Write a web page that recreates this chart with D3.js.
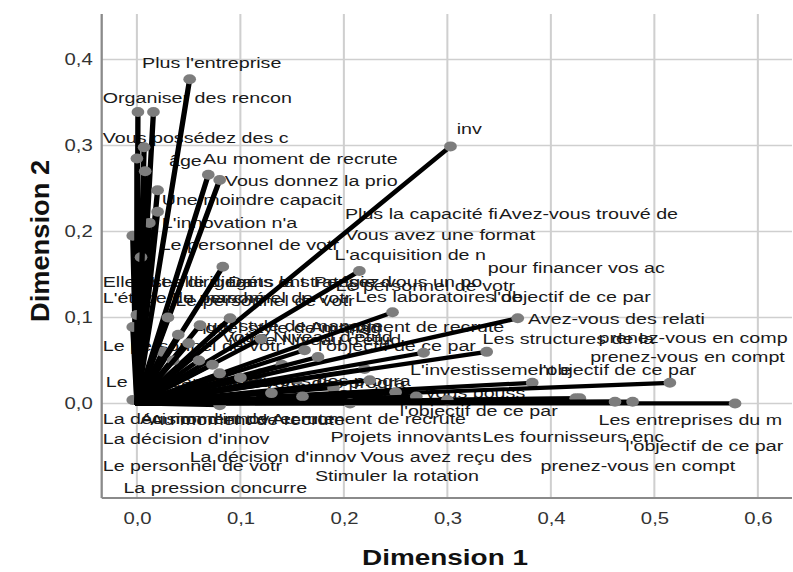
<!DOCTYPE html>
<html><head><meta charset="utf-8">
<script src="https://cdn.jsdelivr.net/npm/d3@7"></script>
<style>
html,body{margin:0;padding:0;background:#fff;}
svg{display:block;}
text{font-family:"Liberation Sans",Arial,sans-serif;}
</style></head>
<body>
<svg id="chart" width="793" height="572"></svg>
<script>
// ---- data (component loadings) ----
const varLabels = [
 "Plus l'entreprise","Organiser des rencon","Vous possédez des c","âge","Au moment de recrute",
 "Vous donnez la prio","Une moindre capacit","L'innovation n'a","Le personnel de votr","inv",
 "Plus la capacité fi","Avez-vous trouvé de","Vous avez une format","L'acquisition de n","pour financer vos ac",
 "Elle est-elle dirigé","Pensez-vous un po","Le personnel de votr","Les laboratoires de","l'objectif de ce par",
 "L'étude du marché","Le personnel de votr","quel style de manage","Au moment de recrute","Avez-vous des relati",
 "Votre Niveau d'étud","l'objectif de ce par","Les structures de la","prenez-vous en comp","prenez-vous en compt",
 "Le personnel de votr","Le dirigeant de vot","L'investissement e","l'objectif de ce par","Avez-vous des progra",
 "Les clients vous pouss","l'objectif de ce par","Les entreprises du m","La décision d'innov","Au moment de recrute",
 "Au moment de recrute","La décision d'innov","Projets innovants","Les fournisseurs enc","l'objectif de ce par",
 "Le personnel de votr","La décision d'innov","Vous avez reçu des","prenez-vous en compt","Stimuler la rotation",
 "La pression concurre",
 "Les dirigeants ont","Dans la stratégie d","Le personnel de votr","quel style de manag","Votre Niveau d'étud",
 "Avez-vous des progra","Au moment de recrute"
];
const dim1 = [
 0.051,0.016,0.001,0.007,0.069,
 0.080,0.020,0.020,-0.004,0.303,
 0.155,0.120,0.190,0.215,0.140,
 0.000,0.083,0.120,0.247,0.220,
 -0.004,0.061,0.090,0.162,0.368,
 0.175,0.277,0.338,0.428,0.424,
 0.000,0.073,0.382,0.515,0.225,
 0.250,0.270,0.578,-0.004,0.035,
 0.110,0.025,0.206,0.300,0.479,
 0.080,0.080,0.160,0.462,0.130,
 0.100,
 0.012,0.004,0.008,0.030,0.040,
 0.050,0.060
];
const dim2 = [
 0.377,0.339,0.339,0.298,0.266,
 0.260,0.248,0.223,0.195,0.299,
 0.028,0.035,0.018,0.154,0.045,
 0.285,0.159,0.075,0.106,0.040,
 0.089,0.091,0.099,0.062,0.099,
 0.054,0.059,0.060,0.006,0.006,
 0.103,0.045,0.024,0.024,0.027,
 0.013,0.008,0.000,0.004,0.050,
 0.005,0.060,0.000,0.004,0.002,
 0.035,-0.002,0.008,0.002,0.012,
 0.030,
 0.210,0.170,0.270,0.100,0.080,
 0.070,0.050
];
// label anchors (left edge / vertical centre), in dimension units
const labelDim1 = [
 0.005,-0.033,-0.033,0.031,0.064,
 0.085,0.024,0.024,0.022,0.309,
 0.201,0.350,0.201,0.191,0.339,
 -0.033,0.171,0.192,0.211,0.344,
 -0.033,0.034,0.057,0.167,0.378,
 0.082,0.175,0.334,0.446,0.438,
 -0.033,-0.030,0.264,0.388,0.080,
 0.184,0.254,0.446,-0.033,0.003,
 0.130,-0.033,0.187,0.334,0.472,
 -0.033,0.051,0.216,0.390,0.172,
 -0.013,
 0.013,0.088,0.037,0.066,0.090,
 0.075,0.013
];
const labelDim2 = [
 0.397,0.356,0.310,0.283,0.285,
 0.259,0.237,0.211,0.185,0.320,
 0.221,0.221,0.197,0.173,0.158,
 0.142,0.142,0.137,0.124,0.125,
 0.123,0.123,0.091,0.090,0.099,
 0.078,0.067,0.076,0.077,0.055,
 0.067,0.026,0.040,0.040,0.027,
 0.013,-0.008,-0.019,-0.017,-0.017,
 -0.017,-0.041,-0.038,-0.038,-0.049,
 -0.072,-0.062,-0.062,-0.072,-0.084,
 -0.098,
 0.142,0.142,0.120,0.088,0.075,
 0.024,-0.019
];
const xTicks = [0,0.1,0.2,0.3,0.4,0.5,0.6];
const yTicks = [0,0.1,0.2,0.3,0.4];
const xTitle = "Dimension 1", yTitle = "Dimension 2";

// ---- drawing ----
const SX = 1.27; // horizontal stretch of the original image
const svg = d3.select("#chart");
const g = svg.append("g").attr("transform", `scale(${SX},1)`);
const pLeft = 101.7/SX, pRight = 792/SX, pTop = 14, pBottom = 498;
const x = d3.scaleLinear().domain([-0.034, 0.633]).range([pLeft, pRight]);
const y = d3.scaleLinear().domain([-0.11, 0.453]).range([pBottom, pTop]);
const fmt = v => d3.format(".1f")(v).replace(".", ",");

// grid
g.append("g").selectAll("line").data(xTicks).join("line")
  .attr("x1", d => x(d)).attr("x2", d => x(d)).attr("y1", pTop).attr("y2", pBottom)
  .attr("stroke", "#cfcfcf").attr("stroke-width", 1.6);
g.append("g").selectAll("line").data(yTicks).join("line")
  .attr("x1", pLeft).attr("x2", pRight).attr("y1", d => y(d)).attr("y2", d => y(d))
  .attr("stroke", "#cfcfcf").attr("stroke-width", 1.6);

// axes lines
g.append("line").attr("x1", pLeft).attr("x2", pLeft).attr("y1", pTop).attr("y2", pBottom)
  .attr("stroke", "#8a8a8a").attr("stroke-width", 1.8);
g.append("line").attr("x1", pLeft).attr("x2", pRight).attr("y1", pBottom).attr("y2", pBottom)
  .attr("stroke", "#8a8a8a").attr("stroke-width", 1.8);

// ticks
const xAxis = d3.axisBottom(x).tickValues(xTicks).tickFormat(fmt).tickSize(0).tickPadding(15);
const gx = g.append("g").attr("transform", `translate(0,${pBottom})`).call(xAxis);
gx.select(".domain").remove();
gx.selectAll("text").attr("font-size", 16).attr("fill", "#333").attr("font-family", "Liberation Sans, Arial, sans-serif");
const yAxis = d3.axisLeft(y).tickValues(yTicks).tickFormat(fmt).tickSize(0).tickPadding(7);
const gy = g.append("g").attr("transform", `translate(${pLeft},0)`).call(yAxis);
gy.select(".domain").remove();
gy.selectAll("text").attr("font-size", 16).attr("fill", "#333").attr("font-family", "Liberation Sans, Arial, sans-serif");

// titles
g.append("text").attr("x", 445/SX).attr("y", 565).attr("text-anchor", "middle")
  .attr("font-size", 22).attr("font-weight", "bold").attr("fill", "#111").text(xTitle);
svg.append("text").attr("transform", `translate(40,241) rotate(-90) scale(1.24,1.15)`)
  .attr("text-anchor", "middle").attr("dy", "0.36em")
  .attr("font-size", 22).attr("font-weight", "bold").attr("fill", "#111").text(yTitle);

const idx = d3.range(varLabels.length);
// labels (drawn beneath the vectors)
g.append("g").selectAll("text").data(idx).join("text")
  .attr("x", i => x(labelDim1[i])).attr("y", i => y(labelDim2[i])).attr("dy", "0.36em")
  .attr("font-size", 15.5).attr("fill", "#1a1a1a").text(i => varLabels[i]);

// vectors
const vg = g.append("g");
idx.forEach(i => {
  vg.append("line").attr("x1", x(0)).attr("y1", y(0)).attr("x2", x(dim1[i])).attr("y2", y(dim2[i]))
    .attr("stroke", "#000").attr("stroke-width", 4.2).attr("stroke-linecap", "round");
  vg.append("circle").attr("cx", x(dim1[i])).attr("cy", y(dim2[i])).attr("r", 5)
    .attr("fill", "#7d7d7d");
});
</script>
</body></html>
